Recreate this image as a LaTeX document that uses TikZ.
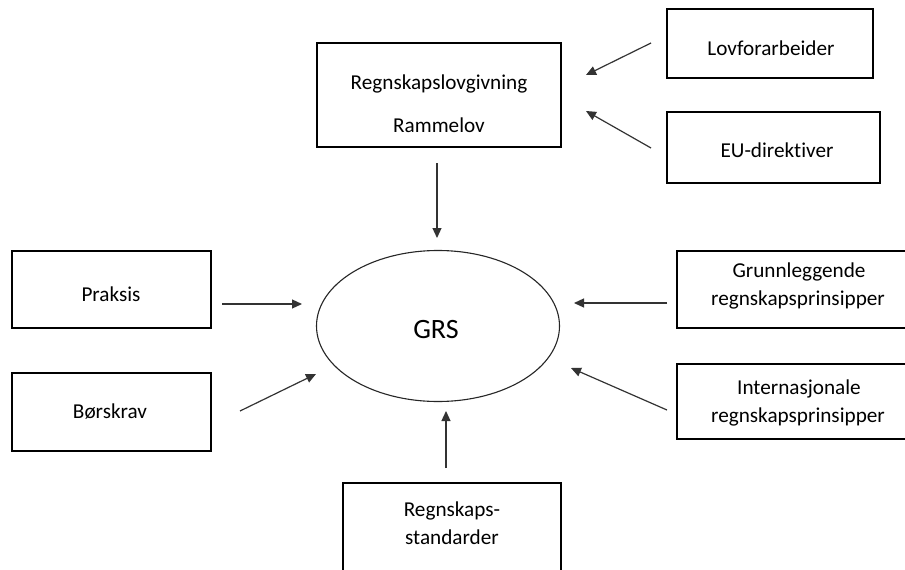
\documentclass[tikz,border=0pt]{standalone}
\usepackage{fontspec}
\setmainfont{Carlito}[Ligatures=NoCommon]
\usetikzlibrary{arrows.meta,shapes.geometric}

\tikzset{
  box/.style={draw=black, line width=1.2pt, rectangle, inner sep=0pt, fill=white},
  txt/.style={anchor=base, inner sep=0pt, text=black, font=\fontsize{21.2}{28}\selectfont},
  conn/.style={draw=black!80, line width=1.2pt, -{Triangle[length=10pt,width=9pt]}},
}

\begin{document}
\begin{tikzpicture}[x=1pt, y=-1pt]
\useasboundingbox (0,0) rectangle (905,570);
\fill[white] (0,0) rectangle (905,570);
\clip (0,0) rectangle (905,570);

% boxes
\node[box, minimum width=244pt, minimum height=104pt] (lov) at (439,95) {};
\node[box, minimum width=206pt, minimum height=69pt] (forarb) at (770,43.5) {};
\node[box, minimum width=213pt, minimum height=71pt] (eudir) at (773.5,147.5) {};
\node[box, minimum width=199pt, minimum height=77pt] (praksis) at (111.5,289.5) {};
\node[box, minimum width=199pt, minimum height=78pt] (bors) at (111.5,412) {};
\node[box, minimum width=244pt, minimum height=77pt] (grunn) at (799,289.5) {};
\node[box, minimum width=244pt, minimum height=75pt] (intern) at (799,401.5) {};
\node[box, minimum width=218pt, minimum height=117pt] (std) at (452,541.5) {};

% central ellipse
\node[draw=black!85, line width=1.1pt, ellipse, inner sep=0pt,
      minimum width=243pt, minimum height=151pt] (grs) at (438,326) {};

% labels
\node[txt] (lovA) at (439,89) {Regnskapslovgivning};
\node[txt] (lovB) at (439,132) {Rammelov};
\node[txt] (forarbT) at (771,55) {Lovforarbeider};
\node[txt] (eudirT) at (777,157) {EU-direktiver};
\node[txt] (praksisT) at (111,301) {Praksis};
\node[txt] (borsT) at (110,418) {Børskrav};
\node[txt] (grunnA) at (799,277) {Grunnleggende};
\node[txt] (grunnB) at (798,305) {regnskapsprinsipper};
\node[txt] (internA) at (799,394) {Internasjonale};
\node[txt] (internB) at (798,422) {regnskapsprinsipper};
\node[txt] (stdA) at (452,516) {Regnskaps-};
\node[txt] (stdB) at (452,544) {standarder};
\node[anchor=base, inner sep=0pt, font=\fontsize{28}{30}\selectfont] (grsT) at (436,338) {GRS};

% connector end points
\coordinate (c1a) at (437,163);  \coordinate (c1b) at (437,238);
\coordinate (c2a) at (651,43);   \coordinate (c2b) at (586,75);
\coordinate (c3a) at (651,148);  \coordinate (c3b) at (586,111);
\coordinate (c4a) at (222,304);  \coordinate (c4b) at (302,304);
\coordinate (c5a) at (240,411);  \coordinate (c5b) at (316,374);
\coordinate (c6a) at (667,303);  \coordinate (c6b) at (574,303);
\coordinate (c7a) at (667,410);  \coordinate (c7b) at (571,368);
\coordinate (c8a) at (446,468);  \coordinate (c8b) at (446,411);

% connectors
\draw[conn] (c1a) -- (c1b);
\draw[conn] (c2a) -- (c2b);
\draw[conn] (c3a) -- (c3b);
\draw[conn] (c4a) -- (c4b);
\draw[conn] (c5a) -- (c5b);
\draw[conn] (c6a) -- (c6b);
\draw[conn] (c7a) -- (c7b);
\draw[conn] (c8a) -- (c8b);
\end{tikzpicture}
\end{document}
